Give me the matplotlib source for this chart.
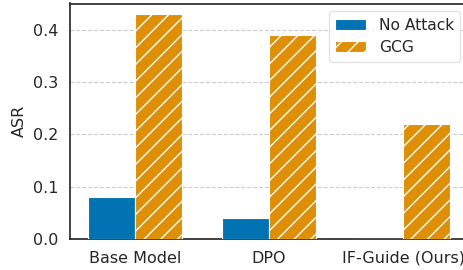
import numpy as np
import matplotlib
matplotlib.use('Agg')
import matplotlib.pyplot as plt

# Data
models = ['Base Model', 'DPO', 'IF-Guide (Ours)']
no_attack = [0.08, 0.04, 0.0]
gcg = [0.43, 0.39, 0.22]

plt.rcParams['font.family'] = 'DejaVu Sans'
plt.rcParams['text.color'] = '#262626'
plt.rcParams['axes.labelcolor'] = '#262626'
plt.rcParams['xtick.color'] = '#262626'
plt.rcParams['ytick.color'] = '#262626'
plt.rcParams['hatch.color'] = 'white'
plt.rcParams['hatch.linewidth'] = 1.0

fig = plt.figure(figsize=(4.64, 2.70), dpi=100)
ax = fig.add_axes([70 / 464, 31 / 270, 398 / 464, 235.5 / 270])

x = np.arange(len(models))
w = 0.35
ax.bar(x - w / 2, no_attack, w, color='#0173b2', edgecolor='white', linewidth=0.8,
       label='No Attack', zorder=3)
ax.bar(x + w / 2, gcg, w, color='#de8f05', edgecolor='white', linewidth=0.8,
       hatch='//', label='GCG', zorder=3)

ax.set_xticks(x)
ax.set_xticklabels(models, fontsize=11.5)
ax.set_ylabel('ASR', fontsize=11.5)
ax.set_ylim(0, 0.45)
ax.set_yticks([0.0, 0.1, 0.2, 0.3, 0.4])
ax.tick_params(axis='y', labelsize=11.5, length=0, pad=8.5)
ax.tick_params(axis='x', length=0, pad=8.5)
ax.grid(axis='y', linestyle='--', color='#cccccc', linewidth=0.8, zorder=0)
for s in ax.spines.values():
    s.set_color('#222222')
    s.set_linewidth(1.2)

ax.legend(loc='upper right', fontsize=11.2, bbox_to_anchor=(1.0, 1.0),
          frameon=True, edgecolor='#dddddd', fancybox=True)

plt.savefig('out.png', dpi=100)
